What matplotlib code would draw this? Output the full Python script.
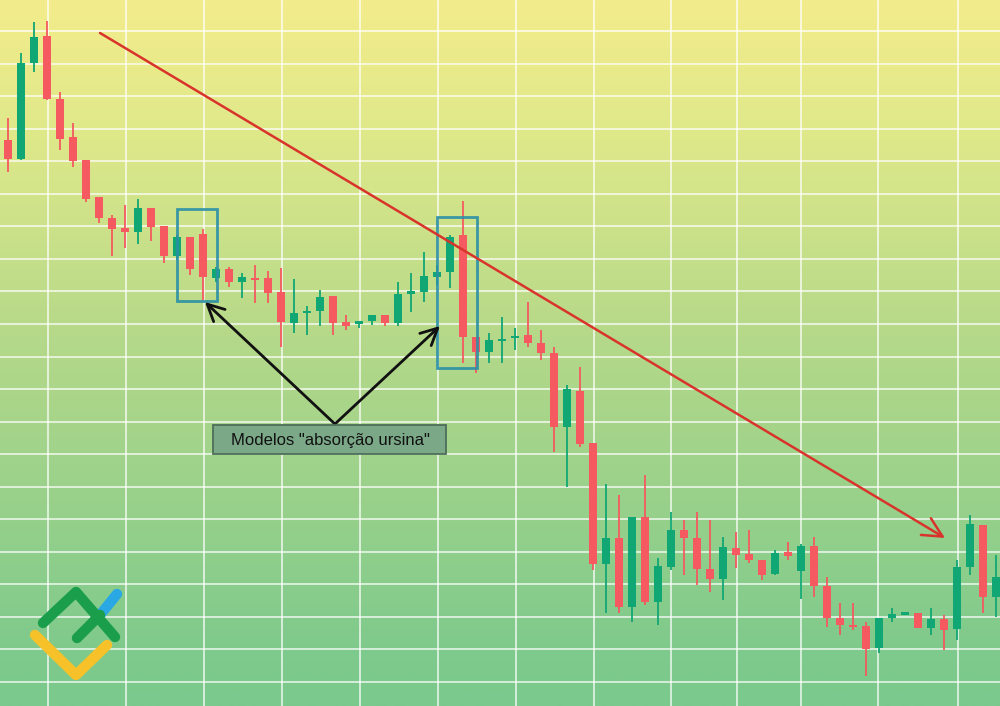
import numpy as np
import matplotlib
matplotlib.use('Agg')
import matplotlib.pyplot as plt
from matplotlib.colors import LinearSegmentedColormap
from matplotlib.patches import Rectangle

# candle data (open, high, low, close), arbitrary price units
opens = [580, 561, 657, 684, 621, 583, 560, 523, 502, 492, 488, 512, 494, 464, 483, 486,
         442, 451, 438, 442, 442, 428, 397, 407, 409, 424, 398, 396, 399, 405, 397, 426,
         428, 443, 448, 485, 383, 368, 379, 382, 385, 377, 367, 293, 329, 277, 156, 182,
         113, 203, 118, 153, 190, 182, 151, 141, 172, 166, 160, 146, 168, 149, 174, 134,
         102, 95, 94, 72, 102, 105, 107, 92, 101, 91, 153, 195, 123]
highs = [602, 667, 698, 699, 628, 597, 560, 523, 505, 515, 521, 512, 494, 485, 483, 491,
         453, 453, 447, 455, 449, 452, 441, 414, 430, 424, 405, 399, 405, 405, 438, 447,
         468, 455, 485, 519, 383, 387, 403, 392, 418, 390, 373, 335, 353, 277, 236, 225,
         203, 245, 162, 208, 200, 208, 200, 183, 188, 190, 160, 170, 178, 176, 183, 143,
         117, 117, 98, 102, 112, 108, 107, 112, 105, 160, 205, 195, 165]
lows = [548, 560, 648, 620, 570, 553, 518, 497, 464, 472, 476, 479, 457, 460, 445, 420,
        438, 433, 422, 417, 417, 373, 387, 385, 394, 385, 390, 392, 395, 394, 394, 408,
        418, 435, 432, 357, 347, 357, 357, 370, 373, 360, 268, 233, 273, 150, 107, 107,
        98, 115, 95, 150, 145, 135, 128, 120, 152, 157, 140, 145, 160, 121, 123, 93,
        85, 90, 44, 67, 98, 105, 92, 85, 70, 80, 145, 107, 103]
closes = [561, 657, 683, 621, 581, 559, 521, 502, 491, 488, 512, 493, 464, 483, 451, 443,
          451, 438, 443, 440, 427, 398, 407, 409, 423, 397, 394, 399, 405, 397, 426, 429,
          444, 448, 483, 383, 368, 380, 381, 384, 377, 367, 293, 331, 276, 156, 182, 113,
          203, 118, 154, 190, 182, 151, 141, 173, 165, 160, 145, 167, 164, 174, 134, 102,
          95, 93, 71, 102, 106, 108, 92, 101, 90, 153, 196, 123, 143]

# trend line and pattern markers (candle index, price)
trend_start = (7.08, 687)
trend_end = (72.08, 182)
pattern_boxes = [(13.0, 419, 3.08, 92), (33.0, 352, 3.08, 151)]
label_text = 'Modelos "absorção ursina"'
label_pos = (24.77, 280)
arrow_targets = [(15.15, 418), (33.23, 394)]
arrow_origin = (25.15, 296)

red = '#F45A5F'
green = '#11A774'

fig = plt.figure(figsize=(10, 7.06), dpi=100)
ax = fig.add_axes([0, 0, 1, 1])
ax.set_xlim(-0.615, 76.31)
ax.set_ylim(14, 720)
ax.axis('off')

# background gradient (bottom -> top)
cmap = LinearSegmentedColormap.from_list(
    'bg', [(0.0, '#7BC98C'), (0.08, '#7FCA8C'), (0.53, '#B6D989'),
           (0.82, '#E0E98A'), (1.0, '#F3EC8C')])
grad = np.linspace(0, 1, 256).reshape(-1, 1)
ax.imshow(grad, cmap=cmap, origin='lower', aspect='auto', extent=[0, 1, 0, 1],
          transform=ax.transAxes, zorder=0)

# grid
grid_x = [3.08, 9.08, 15.08, 21.08, 27.08, 33.08, 39.08, 45.08, 51.0, 56.08, 61.0, 66.92, 73.08]
for gx in grid_x:
    ax.axvline(gx, color='white', lw=1.2, alpha=0.8, zorder=1)
for gy in 689 - 32.55 * np.arange(0, 21):
    ax.axhline(gy, color='white', lw=1.2, alpha=0.8, zorder=1)

# candles
for i in range(len(opens)):
    o, h, l, c = opens[i], highs[i], lows[i], closes[i]
    col = green if c >= o else red
    ax.vlines(i, l, h, color=col, lw=1.3, zorder=3)
    bottom = min(o, c)
    height = max(abs(c - o), 2.5)
    ax.add_patch(Rectangle((i - 0.3, bottom), 0.6, height, facecolor=col,
                           edgecolor='none', zorder=4))

# pattern boxes
for bx, by, bw, bh in pattern_boxes:
    ax.add_patch(Rectangle((bx, by), bw, bh, fill=False, edgecolor='#2A8FA6',
                           lw=2, alpha=0.9, zorder=5))

# trend line
ax.annotate('', xy=trend_end, xytext=trend_start,
            arrowprops=dict(arrowstyle='->,head_length=0.7,head_width=0.35',
                            color='#D9342B', lw=1.8, mutation_scale=20,
                            shrinkA=0, shrinkB=0), zorder=6)

# black arrows
for tgt in arrow_targets:
    ax.annotate('', xy=tgt, xytext=arrow_origin,
                arrowprops=dict(arrowstyle='->,head_length=0.6,head_width=0.3',
                                color='#111111', lw=2, mutation_scale=20,
                                shrinkA=0, shrinkB=0), zorder=6)

# label box
ax.add_patch(Rectangle((15.77, 266), 17.92, 29, facecolor='#7BA887',
                       edgecolor='#4E6E59', lw=1.3, zorder=7))
ax.text(label_pos[0], label_pos[1], label_text, ha='center', va='center',
        fontsize=12, family='Liberation Sans', color='#111111', zorder=8)

# logo
def stroke(pts, color):
    xs = [p[0] for p in pts]
    ys = [p[1] for p in pts]
    ax.plot(xs, ys, color=color, lw=7.5, solid_capstyle='round', solid_joinstyle='round',
            transform=ax.transAxes, zorder=9)

stroke([(0.035, 0.1006), (0.076, 0.0439), (0.107, 0.0864)], '#F7C229')
stroke([(0.100, 0.1289), (0.117, 0.1586)], '#2AA8E4')
stroke([(0.043, 0.1176), (0.076, 0.1615), (0.115, 0.0977)], '#1B9E4B')
stroke([(0.077, 0.0963), (0.100, 0.1289)], '#1B9E4B')

fig.savefig('out.png', dpi=100)
